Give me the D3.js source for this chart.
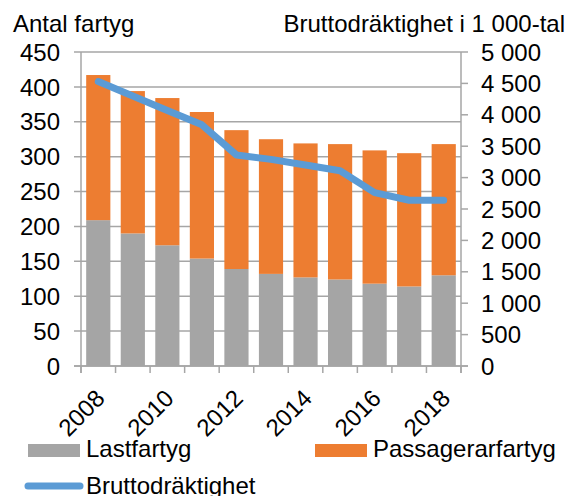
<!DOCTYPE html>
<html>
<head>
<meta charset="utf-8">
<script src="https://cdn.jsdelivr.net/npm/d3@7"></script>
<style>
  body { margin: 0; background: #fff; }
  svg text { font-family: Arial, "Liberation Sans", sans-serif; fill: #000; }
</style>
</head>
<body>
<svg id="chart" width="567" height="496"></svg>
<script>
var years = [2008, 2009, 2010, 2011, 2012, 2013, 2014, 2015, 2016, 2017, 2018];
var lastfartyg = [209, 190, 173, 154, 139, 132, 127, 124, 118, 114, 130];
var passagerarfartyg = [208, 204, 211, 210, 199, 193, 192, 194, 191, 191, 188];
var brutto = [4530, 4300, 4070, 3840, 3360, 3290, 3200, 3110, 2760, 2640, 2640];
var leftTicks = [0, 50, 100, 150, 200, 250, 300, 350, 400, 450];
var rightTicks = [0, 500, 1000, 1500, 2000, 2500, 3000, 3500, 4000, 4500, 5000];

var svg = d3.select("#chart");
var plotL = 81, plotR = 461, plotT = 52, plotB = 366;
var axisColor = "#a6a6a6";

var x = d3.scaleBand().domain(years).range([plotL, plotR]).paddingInner(0.3).paddingOuter(0.15);
var yL = d3.scaleLinear().domain([0, 450]).range([plotB, plotT]);
var yR = d3.scaleLinear().domain([0, 5000]).range([plotB, plotT]);

var fmt = function(v) { return d3.format(",")(v).replace(/,/g, " "); };

// gridlines + left ticks
svg.append("g").selectAll("line").data(leftTicks).enter().append("line")
  .attr("x1", plotL - 7).attr("x2", plotR)
  .attr("y1", function(d) { return yL(d); }).attr("y2", function(d) { return yL(d); })
  .style("stroke", axisColor).style("stroke-width", 1.5);

// right ticks
svg.append("g").selectAll("line").data(rightTicks).enter().append("line")
  .attr("x1", plotR).attr("x2", plotR + 7)
  .attr("y1", function(d) { return yR(d); }).attr("y2", function(d) { return yR(d); })
  .style("stroke", axisColor).style("stroke-width", 1.5);

// bars
var stack = years.map(function(yr, i) {
  return { year: yr, last: lastfartyg[i], pass: passagerarfartyg[i] };
});

var bars = svg.append("g");
bars.selectAll(".last").data(stack).enter().append("rect")
  .attr("class", "last")
  .attr("x", function(d) { return x(d.year); })
  .attr("width", x.bandwidth())
  .attr("y", function(d) { return yL(d.last); })
  .attr("height", function(d) { return yL(0) - yL(d.last); })
  .style("fill", "#a5a5a5");

bars.selectAll(".pass").data(stack).enter().append("rect")
  .attr("class", "pass")
  .attr("x", function(d) { return x(d.year); })
  .attr("width", x.bandwidth())
  .attr("y", function(d) { return yL(d.last + d.pass); })
  .attr("height", function(d) { return yL(d.last) - yL(d.last + d.pass); })
  .style("fill", "#ed7d31");

// axes lines
svg.append("line").attr("x1", plotL).attr("x2", plotL).attr("y1", plotT).attr("y2", plotB + 7)
  .style("stroke", axisColor).style("stroke-width", 1.5);
svg.append("line").attr("x1", plotR).attr("x2", plotR).attr("y1", plotT).attr("y2", plotB + 7)
  .style("stroke", axisColor).style("stroke-width", 1.5);
svg.append("line").attr("x1", plotL - 7).attr("x2", plotR + 7).attr("y1", plotB).attr("y2", plotB)
  .style("stroke", axisColor).style("stroke-width", 1.5);

// x ticks at category boundaries
var bounds = years.map(function(yr) { return x(yr) - x.step() * x.paddingInner() / 2; });
bounds.push(plotR);
bounds[0] = plotL;
svg.append("g").selectAll("line").data(bounds).enter().append("line")
  .attr("x1", function(d) { return d; }).attr("x2", function(d) { return d; })
  .attr("y1", plotB).attr("y2", plotB + 7)
  .style("stroke", axisColor).style("stroke-width", 1.5);

// line
var line = d3.line()
  .x(function(d, i) { return x(years[i]) + x.bandwidth() / 2; })
  .y(function(d) { return yR(d); });
svg.append("path").datum(brutto)
  .attr("d", line)
  .style("fill", "none")
  .style("stroke", "#5b9bd5")
  .style("stroke-width", 7)
  .style("stroke-linejoin", "round")
  .style("stroke-linecap", "round");

// left labels
svg.append("g").selectAll("text").data(leftTicks).enter().append("text")
  .attr("x", 60).attr("y", function(d) { return yL(d); })
  .attr("dy", "0.36em")
  .attr("text-anchor", "end")
  .style("font-size", "24px")
  .text(function(d) { return d; });

// right labels
svg.append("g").selectAll("text").data(rightTicks).enter().append("text")
  .attr("x", 481).attr("y", function(d) { return yR(d); })
  .attr("dy", "0.36em")
  .style("font-size", "24px")
  .text(fmt);

// x labels
svg.append("g").selectAll("text").data(years.filter(function(yr) { return yr % 2 === 0; })).enter().append("text")
  .attr("transform", function(d) {
    return "translate(" + (x(d) + x.bandwidth() / 2 - 4) + "," + (plotB + 22) + ") rotate(-45)";
  })
  .attr("text-anchor", "end")
  .attr("dy", "0.7em")
  .style("font-size", "24px")
  .text(function(d) { return d; });

// titles
svg.append("text").attr("x", 13).attr("y", 32).style("font-size", "24px").text("Antal fartyg");
svg.append("text").attr("x", 565).attr("y", 32).attr("text-anchor", "end").style("font-size", "24px")
  .text("Bruttodräktighet i 1 000-tal");

// legend
var legend = svg.append("g");
legend.append("rect").attr("x", 28).attr("y", 444).attr("width", 52).attr("height", 13).style("fill", "#a5a5a5");
legend.append("text").attr("x", 86).attr("y", 457).style("font-size", "24px").text("Lastfartyg");
legend.append("rect").attr("x", 315).attr("y", 444).attr("width", 52).attr("height", 13).style("fill", "#ed7d31");
legend.append("text").attr("x", 373).attr("y", 457).style("font-size", "24px").text("Passagerarfartyg");
legend.append("line").attr("x1", 28).attr("x2", 80).attr("y1", 486).attr("y2", 486)
  .style("stroke", "#5b9bd5").style("stroke-width", 7).style("stroke-linecap", "round");
legend.append("text").attr("x", 86).attr("y", 494).style("font-size", "24px").text("Bruttodräktighet");
</script>
</body>
</html>
